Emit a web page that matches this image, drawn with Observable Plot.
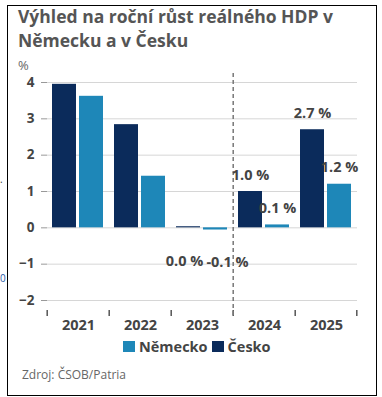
<!DOCTYPE html>
<html><head><meta charset="utf-8">
<script src="https://cdn.jsdelivr.net/npm/d3@7"></script>
<script src="https://cdn.jsdelivr.net/npm/@observablehq/plot@0.6"></script>
<style>
html,body{margin:0;padding:0;background:#fff}
body{width:382px;height:397px;position:relative;overflow:hidden;font-family:"Open Sans",sans-serif}
#frame{position:absolute;left:7px;top:5px;width:370px;height:391px;border:1.5px solid #000;box-sizing:border-box}
#title{position:absolute;left:18px;top:5px;font-weight:700;font-size:17.5px;line-height:23.5px;color:#555;white-space:nowrap}
#unit{position:absolute;left:18px;top:56px;font-size:13px;color:#666}
#chart{position:absolute;left:0;top:60px}
#legend{position:absolute;left:123px;top:337px;font-weight:700;font-size:14.5px;color:#444;display:flex;align-items:center;white-space:nowrap}
#legend .sw{display:inline-block;width:12px;height:11px;margin-right:4px}
#legend .item{display:flex;align-items:center;margin-right:4px}
#source{position:absolute;left:22px;top:366px;font-size:12px;color:#666}
.stray{position:absolute;font-size:10px;line-height:10px}
</style>
</head><body>
<div id="frame"></div>
<div id="title">Výhled na roční růst reálného HDP v<br>Německu a v Česku</div>
<div id="unit">%</div>
<div class="stray" style="left:0px;top:174px;color:#333">.</div>
<div class="stray" style="left:0px;top:273px;color:#2a5ca8">0</div>
<div id="chart"></div>
<div id="legend"></div>
<div id="source">Zdroj: ČSOB/Patria</div>
<script>
const years = ["2021", "2022", "2023", "2024", "2025"];
const series = ["Česko", "Německo"];
const ceskoValues = [3.95, 2.84, 0.03, 1.0, 2.7];
const nemeckoValues = [3.62, 1.42, -0.06, 0.08, 1.2];
const labeledYears = ["2023", "2024", "2025"];
const yTicks = [-2, -1, 0, 1, 2, 3, 4];
const colors = ["#0b2b5b", "#1e87b8"];
const legendOrder = ["Německo", "Česko"];

const data = years.flatMap((year, i) => [
  {year, country: series[0], value: ceskoValues[i]},
  {year, country: series[1], value: nemeckoValues[i]}
]);
const fmt = v => v.toFixed(1) + " %";
const lbl = data.filter(d => labeledYears.includes(d.year) && d.year !== "2023");
const lbl23c = data.filter(d => d.year === "2023" && d.country === series[0]);
const lbl23n = data.filter(d => d.year === "2023" && d.country === series[1]);
const textStyle = {fontSize: 14.5, fontWeight: 700, fill: "#444", fontFamily: "Open Sans"};

const chart = Plot.plot({
  width: 382, height: 280,
  marginLeft: 45, marginRight: 24, marginTop: 22, marginBottom: 40,
  style: {fontFamily: "Open Sans", overflow: "visible"},
  fx: {domain: years, padding: 0, label: null},
  x: {domain: series, paddingInner: 0.107, paddingOuter: 0.171, axis: null},
  y: {domain: [-2, 4], label: null},
  color: {domain: series, range: colors},
  marks: [
    Plot.gridY(yTicks, {stroke: "#d6d6d6", strokeOpacity: 1}),
    Plot.axisY(yTicks, {tickSize: 6, tickPadding: 7, stroke: "#999", fontSize: 13.5, fontWeight: 700, fill: "#444", label: null}),
    Plot.axisFx({anchor: "bottom", tickSize: 0, tickPadding: 19, fontSize: 14.5, fontWeight: 700, fill: "#444", label: null}),
    Plot.barY(data, {fx: "year", x: "country", y: "value", fill: "country"}),
    Plot.ruleX(years, {fx: d => d, x: () => series[0], dx: -17.3, insetTop: 228, insetBottom: -16, stroke: "#555", strokeWidth: 1.5}),
    Plot.ruleX(years.slice(-1), {fx: d => d, x: () => series[1], dx: 17.3, insetTop: 228, insetBottom: -16, stroke: "#555", strokeWidth: 1.5}),
    Plot.ruleX(["2024"], {fx: d => d, x: () => series[0], dx: -17.3, insetTop: -9, insetBottom: -16, stroke: "#777", strokeWidth: 1.5, strokeDasharray: "4,3"}),
    Plot.text(lbl, {fx: "year", x: "country", y: "value", text: d => fmt(d.value), dy: -16.5, ...textStyle}),
    Plot.text(lbl23c, {fx: "year", x: "country", y: "value", text: d => fmt(d.value), dy: 35, dx: -4, ...textStyle}),
    Plot.text(lbl23n, {fx: "year", x: "country", y: "value", text: d => fmt(d.value), dy: 32, dx: 12, ...textStyle})
  ]
});
document.getElementById("chart").appendChild(chart);

const legend = document.getElementById("legend");
legendOrder.forEach(name => {
  const item = document.createElement("span");
  item.className = "item";
  const sw = document.createElement("span");
  sw.className = "sw";
  sw.style.background = colors[series.indexOf(name)];
  item.appendChild(sw);
  item.appendChild(document.createTextNode(name));
  legend.appendChild(item);
});
</script>
</body></html>
